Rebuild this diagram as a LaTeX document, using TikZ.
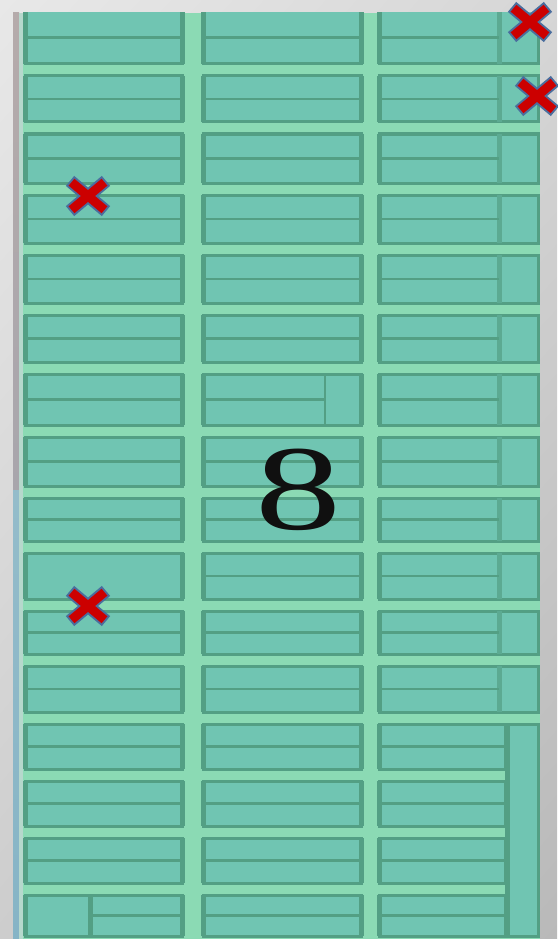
\documentclass[tikz,border=0pt]{standalone}
\usepackage{fontspec}
\usetikzlibrary{shadings}
\newfontfamily\timesfont{Liberation Serif}
\definecolor{boxfill}{HTML}{70C5B2}
\definecolor{boxline}{HTML}{539F84}
\definecolor{gapcol}{HTML}{8BDAB4}
\definecolor{xred}{HTML}{CC0000}
\definecolor{xblue}{HTML}{4B6E9E}
\definecolor{bgA}{HTML}{E8E8E8}
\definecolor{bgB}{HTML}{D6D6D6}
\definecolor{bgC}{HTML}{CDCDCD}
\definecolor{bgD}{HTML}{B9B9B9}
\definecolor{stripA}{HTML}{B5ABAB}
\definecolor{stripB}{HTML}{A8A6AC}
\definecolor{stripC}{HTML}{94BCCA}
\definecolor{stripD}{HTML}{86B4C6}
\definecolor{stripE}{HTML}{B6D8CC}
\definecolor{digit}{HTML}{101010}
\tikzset{
  shelfbox/.style={fill=boxfill,draw=boxline,line width=3pt},
  sideline/.style={draw=boxline,line width=5pt},
  midline/.style={draw=boxline,line width=2.6pt},
  subline/.style={draw=boxline!70!boxfill,line width=5pt},
  redcross/.pic={
    \draw[xblue,line width=13pt] (-18,-15.1)--(18,15.1) (-18,15.1)--(18,-15.1);
    \draw[xred,line width=9pt] (-16.5,-13.8)--(16.5,13.8) (-16.5,13.8)--(16.5,-13.8);
  }
}
\begin{document}
\begin{tikzpicture}[x=1pt,y=-1pt]
\useasboundingbox (0,0) rectangle (557,939);
\shade[upper left=bgA,upper right=bgB,lower left=bgC,lower right=bgD] (0,0) rectangle (557,939);
% left shadow strip
\shade[top color=stripA,bottom color=stripB] (13,13) rectangle (19,490);
\shade[top color=stripC,bottom color=stripD] (13,490) rectangle (19,939);
\fill[stripE] (19,13) rectangle (23,939);
% panel
\fill[gapcol] (23,13) rectangle (540,939);
\begin{scope}
\clip (23,13) rectangle (540,939);
\foreach \t/\b [count=\i] in {11/64,76/122,134/183,195/243,255/303,315/362,374/425,437/486,498/541,553/599,611/654,666/712,724/769,781/826,838/883,895/936} {
  \pgfmathsetmacro\m{(\t+\b)/2}
  % column 1
  \draw[shelfbox] (25,\t) rectangle (182,\b);
  \draw[sideline] (25,\t) -- (25,\b) (182,\t) -- (182,\b);
  \ifnum\i=16
    \draw[sideline] (90,\t) -- (90,\b);
    \draw[midline] (90,\m) -- (182,\m);
  \else\ifnum\i=10
  \else
    \draw[midline] (25,\m) -- (182,\m);
  \fi\fi
  % column 2
  \draw[shelfbox] (203,\t) rectangle (361,\b);
  \draw[sideline] (203,\t) -- (203,\b) (361,\t) -- (361,\b);
  \ifnum\i=7
    \draw[midline] (203,\m) -- (325,\m);
    \draw[midline] (325,\t) -- (325,\b);
  \else
    \draw[midline] (203,\m) -- (361,\m);
  \fi
  % column 3
  \ifnum\i<13
    \draw[shelfbox] (379,\t) rectangle (538,\b);
    \draw[sideline] (379,\t) -- (379,\b);
    \draw[subline] (499,\t) -- (499,\b);
    \draw[midline] (379,\m) -- (499,\m);
  \else
    \draw[shelfbox] (379,\t) rectangle (505,\b);
    \draw[sideline] (379,\t) -- (379,\b);
    \draw[midline] (379,\m) -- (505,\m);
  \fi
}
\draw[shelfbox] (507,724) rectangle (538,936);
\draw[sideline] (507,724) -- (507,936);
\end{scope}
% the number
\node[font=\timesfont\fontsize{121}{121}\selectfont,xscale=1.42,inner sep=0pt,text=digit] (eight) at (298.5,490) {8};
% red crosses
\pic at (88,196) {redcross};
\pic at (88,606) {redcross};
\pic at (530,22) {redcross};
\pic at (537,96) {redcross};
\end{tikzpicture}
\end{document}
